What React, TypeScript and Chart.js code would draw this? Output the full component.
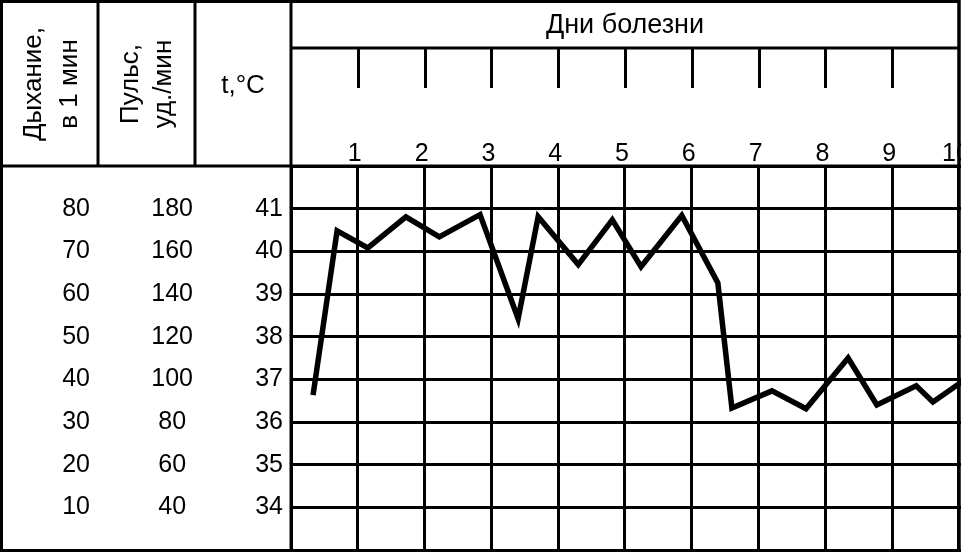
import React, { useEffect, useRef } from "react";
import { Chart, registerables } from "chart.js";

Chart.register(...registerables);

// Grid / tick values
const dayTicks = [0, 1, 2, 3, 4, 5, 6, 7, 8, 9, 10];
const tempTicks = [33, 34, 35, 36, 37, 38, 39, 40, 41, 42];
const pulseTicks = [40, 60, 80, 100, 120, 140, 160, 180];
const respTicks = [10, 20, 30, 40, 50, 60, 70, 80];

// Temperature curve (day of illness, °C)
const dayPositions = [0.33, 0.69, 1.15, 1.72, 2.22, 2.83, 3.4, 3.7, 4.3, 4.81, 5.24, 5.85, 6.39, 6.6, 7.2, 7.71, 8.34, 8.77, 9.36, 9.61, 10.05];
const temperatures = [36.63, 40.48, 40.08, 40.81, 40.34, 40.86, 38.42, 40.81, 39.69, 40.74, 39.64, 40.84, 39.26, 36.33, 36.73, 36.31, 37.5, 36.4, 36.85, 36.47, 36.95];

// Header texts
const headerTitle = "Дни болезни";
const respHeader = ["Дыхание,", "в 1 мин"];
const pulseHeader = ["Пульс,", "уд./мин"];
const tempHeader = "t,°C";

const FONT = "'Liberation Sans', Arial, sans-serif";

const noPad = (s: any) => {
  s.paddingTop = 0;
  s.paddingBottom = 0;
  s.paddingLeft = 0;
  s.paddingRight = 0;
};

const headerPlugin = {
  id: "headerTable",
  beforeDatasetsDraw(chart: any) {
    const ctx = chart.ctx as CanvasRenderingContext2D;
    const area = chart.chartArea;
    const xs = chart.scales.x;
    const yPulse = chart.scales.yPulse;
    const yResp = chart.scales.yResp;
    const right = xs.getPixelForValue(10);
    ctx.save();
    ctx.strokeStyle = "#000";
    ctx.lineWidth = 3;
    ctx.lineCap = "butt";
    // outer frame
    ctx.strokeRect(1.5, 1.5, right - 1.5, 550.5 - 1.5);
    ctx.beginPath();
    // header bottom line
    ctx.moveTo(0, area.top);
    ctx.lineTo(right, area.top);
    // days title line
    ctx.moveTo(area.left, 48);
    ctx.lineTo(right, 48);
    // column separators
    ctx.moveTo(yResp.right, 0);
    ctx.lineTo(yResp.right, area.top);
    ctx.moveTo(yPulse.right, 0);
    ctx.lineTo(yPulse.right, area.top);
    ctx.moveTo(area.left, 0);
    ctx.lineTo(area.left, area.bottom);
    ctx.moveTo(right, 0);
    ctx.lineTo(right, area.bottom);
    // header tick marks
    dayTicks.forEach((d) => {
      if (d === 0 || d === 10) return;
      const px = Math.round(xs.getPixelForValue(d)) + 0.5;
      ctx.moveTo(px, 48);
      ctx.lineTo(px, 88);
    });
    ctx.stroke();

    ctx.fillStyle = "#000";
    ctx.textAlign = "center";
    ctx.textBaseline = "alphabetic";
    ctx.font = `27px ${FONT}`;
    ctx.fillText(headerTitle, (area.left + right) / 2, 33);
    ctx.font = `26px ${FONT}`;
    ctx.fillText(tempHeader, 243, 93);

    const drawRot = (text: string, bx: number, cy: number) => {
      ctx.save();
      ctx.translate(bx, cy);
      ctx.rotate(-Math.PI / 2);
      ctx.fillText(text, 0, 0);
      ctx.restore();
    };
    drawRot(respHeader[0], 41, 84);
    drawRot(respHeader[1], 77, 84);
    drawRot(pulseHeader[0], 138, 84);
    drawRot(pulseHeader[1], 171, 84);
    ctx.restore();
  },
};

export default function App() {
  const ref = useRef<HTMLCanvasElement | null>(null);
  useEffect(() => {
    if (!ref.current) return;
    const tickFont = { family: FONT, size: 25 };
    const chart = new Chart(ref.current, {
      type: "line",
      data: {
        datasets: [
          {
            data: dayPositions.map((x, i) => ({ x, y: temperatures[i] })),
            borderColor: "#000",
            backgroundColor: "#000",
            borderWidth: 5.5,
            pointRadius: 0,
            tension: 0,
            borderJoinStyle: "miter",
          },
        ],
      },
      options: {
        animation: false,
        responsive: true,
        maintainAspectRatio: false,
        layout: { padding: { top: 0, left: 0, right: 0, bottom: 2 } },
        plugins: { legend: { display: false }, tooltip: { enabled: false } },
        scales: {
          x: {
            type: "linear",
            position: "top",
            min: 0,
            max: 10.03,
            afterBuildTicks: (s: any) => {
              s.ticks = dayTicks.map((v) => ({ value: v }));
            },
            afterFit: (s: any) => {
              s.height = 166;
              noPad(s);
            },
            ticks: {
              callback: (v: any) => (v === 0 ? "" : String(v)),
              font: tickFont,
              color: "#000",
              padding: -3,
              labelOffset: -3,
              maxRotation: 0,
              autoSkip: false,
            },
            grid: { color: "#000", lineWidth: 3, drawTicks: false },
            border: { display: false },
          },
          y: {
            type: "linear",
            position: "left",
            weight: 0,
            min: 33,
            max: 42,
            afterBuildTicks: (s: any) => {
              s.ticks = tempTicks.map((v) => ({ value: v }));
            },
            afterFit: (s: any) => {
              s.width = 96;
              noPad(s);
            },
            ticks: {
              callback: (v: any) => (v === 33 || v === 42 ? "" : String(v)),
              font: tickFont,
              color: "#000",
              padding: 8,
            },
            grid: { color: "#000", lineWidth: 3, drawTicks: false },
            border: { display: false },
          },
          yPulse: {
            type: "linear",
            position: "left",
            weight: 1,
            min: 20,
            max: 200,
            afterBuildTicks: (s: any) => {
              s.ticks = pulseTicks.map((v) => ({ value: v }));
            },
            afterFit: (s: any) => {
              s.width = 97;
              noPad(s);
            },
            ticks: {
              font: tickFont,
              color: "#000",
              padding: 2,
              crossAlign: "center",
            },
            grid: { display: false, drawTicks: false },
            border: { display: false },
          },
          yResp: {
            type: "linear",
            position: "left",
            weight: 2,
            min: 0,
            max: 90,
            afterBuildTicks: (s: any) => {
              s.ticks = respTicks.map((v) => ({ value: v }));
            },
            afterFit: (s: any) => {
              s.width = 98;
              noPad(s);
            },
            ticks: {
              font: tickFont,
              color: "#000",
              padding: 8,
              crossAlign: "center",
            },
            grid: { display: false, drawTicks: false },
            border: { display: false },
          },
        },
      },
      plugins: [headerPlugin],
    } as any);
    return () => chart.destroy();
  }, []);

  return (
    <div style={{ position: "absolute", left: 0, top: 0, width: 961, height: 552, background: "#fff" }}>
      <canvas ref={ref} />
    </div>
  );
}
